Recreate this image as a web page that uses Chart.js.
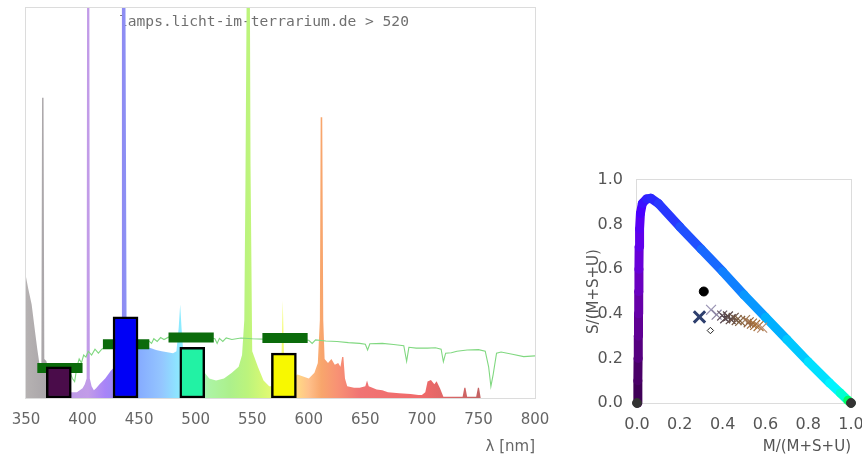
<!DOCTYPE html>
<html>
<head>
<meta charset="utf-8">
<script src="https://cdn.jsdelivr.net/npm/chart.js@4.4.1/dist/chart.umd.min.js"></script>
<style>
  html, body { margin: 0; padding: 0; background: #fff; overflow: hidden; }
  #spec { position: absolute; left: 0; top: 0; }
  #tri  { position: absolute; left: 570px; top: 160px; }
</style>
</head>
<body>
<canvas id="spec" width="560" height="457"></canvas>
<canvas id="tri" width="292" height="297"></canvas>
<script>
// ---- spectrum (left panel), relative intensity in % of plot height ----
const specNm  = [350, 352, 355, 358, 360, 362, 363.6, 364.2, 365.5, 366.2, 368, 370, 371.5, 374, 380, 390, 395, 400, 402, 403.6, 404.1, 405.9, 406.4, 408, 410, 412, 415, 420, 425, 430, 434, 434.8, 437.6, 439, 445, 450, 455, 460, 465, 470, 475, 480, 483, 485, 486.3, 487.5, 489, 492, 497, 503, 508, 512, 518, 525, 532, 538, 541, 543, 544, 545, 545.6, 547.6, 548.5, 550, 555, 560, 565, 570, 574, 576, 577, 578, 580, 585, 590, 595, 600, 605, 608, 609.8, 610.5, 611.9, 612.8, 614, 617, 620, 623, 626, 628, 629.5, 630.6, 632, 634, 640, 645, 650, 651.5, 653, 660, 665, 670, 680, 690, 697, 700, 703, 705, 708, 711, 713, 716, 719, 725, 731, 736, 737.5, 738.5, 740, 748, 749.5, 750.5, 752, 800];
const specVal = [31, 28, 24, 17, 12.5, 8.5, 9, 77, 77, 10, 9.5, 7, 3, 1.5, 1, 1.5, 1.5, 2.5, 3.5, 5, 130, 130, 5, 3, 2, 2.5, 3.5, 5, 7, 8.5, 9.5, 130, 130, 12, 13.5, 13.5, 13.2, 12.8, 12.3, 12, 11.7, 11.5, 12, 18, 24, 18, 12, 10, 9, 8, 6.5, 5, 4.5, 5, 6.5, 8, 11, 20, 55, 100, 130, 130, 60, 12, 8, 4.5, 3, 3, 3.5, 12, 25, 12, 4, 5, 6, 5.5, 5, 6.5, 9, 20, 72, 72, 20, 10, 9, 10, 8.5, 9, 8, 10.5, 10.5, 5, 3, 2.6, 2.6, 3, 4.5, 3, 2.2, 2, 1.5, 1.2, 1, 0.8, 0.8, 1.5, 4.2, 4.6, 3.5, 4.3, 2.5, 0.3, 0.3, 0.3, 0.3, 2.6, 2.6, 0.3, 0.3, 2.6, 2.6, 0, 0];

// transmission curve (thin green line)
const reflNm  = [387, 389, 391, 393, 395, 397, 399, 401, 403, 405, 408, 411, 414, 417, 420, 430, 440, 450, 458, 461, 463, 466, 469, 472, 476, 490, 505, 517, 519, 521, 524, 527, 532, 540, 550, 560, 575, 590, 600, 603, 606, 615, 625, 635, 645, 650, 652, 654, 665, 675, 684, 686.5, 688.5, 695, 705, 712, 717, 719, 721, 726, 731, 740, 750, 756, 759, 761, 763, 766, 770, 780, 790, 800];
const reflVal = [3.8, 6.5, 5, 4.2, 8, 10, 9, 11, 10.5, 12, 11, 12.5, 11.5, 12.5, 13, 13.6, 14, 14.3, 14.8, 14, 15.2, 14.5, 15.5, 15, 15.6, 15.8, 15.8, 15.2, 14, 15.3, 14.5, 15.4, 15, 15.4, 15.2, 15.1, 15, 14.8, 14.8, 14, 14.9, 14.6, 14.5, 14.2, 14, 13.8, 12.3, 13.9, 14, 13.7, 13.4, 9.4, 13, 12.8, 12.8, 12.9, 12.5, 9.3, 11.5, 11.6, 12, 12.3, 12.4, 12, 8, 3, 6, 11.5, 11.8, 11.2, 10.6, 10.8];

// receptor bars (black outlined) and dark green markers
const coneNm    = [379, 438, 497, 578];
const coneVal   = [8, 20.8, 13, 11.5];
const coneColor = ['#4a0c4a', '#0000f6', '#22f2a4', '#f8f800'];
const markFrom  = [360, 418, 476, 559];
const markTo    = [400, 459, 516, 599];
const markVal   = [7.7, 13.8, 15.5, 15.4];
const specTicks = [350, 400, 450, 500, 550, 600, 650, 700, 750, 800];

// colour stops of the spectrum fill
const hueNm    = [350, 370, 376, 405, 420, 436, 447, 470, 487, 500, 512, 530, 546, 560, 577, 590, 600, 611, 625, 645, 700, 750, 800];
const hueColor = ['#b6b2b2', '#a8a4a8', '#b898e4', '#c29ce8', '#a884f8', '#8e8cf2', '#84a8ff', '#94c6ff', '#8cecff', '#a4f8d0', '#acf4a4', '#acf08c', '#bcf47c', '#d6f874', '#f4fc74', '#ffd884', '#ffc08a', '#f8a66c', '#f89274', '#f07474', '#f06a6a', '#c46262', '#c46262'];

// ---- colour triangle (right panel) ----
const locusM = [0.004, 0.004, 0.005, 0.006, 0.007, 0.008, 0.009, 0.010, 0.012, 0.016, 0.025, 0.045, 0.065, 0.10, 0.20, 0.30, 0.40, 0.50, 0.60, 0.70, 0.80, 0.90, 0.95, 0.985, 1.0];
const locusS = [0.0, 0.10, 0.20, 0.30, 0.40, 0.50, 0.60, 0.70, 0.78, 0.85, 0.895, 0.915, 0.918, 0.895, 0.79, 0.69, 0.59, 0.485, 0.385, 0.285, 0.185, 0.09, 0.045, 0.012, 0.0];
const locusColor = ['#400058', '#4a0068', '#560080', '#600094', '#6600a8', '#6a00c0', '#6800d8', '#6000ea', '#5800f4', '#4a00ff', '#3c10ff', '#3020ff', '#2a28ff', '#2838ff', '#2050ff', '#1868ff', '#1080ff', '#0898ff', '#00b0ff', '#00c8ff', '#00e0ff', '#00f4ff', '#00ffd0', '#00ff60', '#10ff00'];
const endM = [0, 1];
const endS = [0, 0];
const refM = [0.312];
const refS = [0.50];
const blueM = [0.292];
const blueS = [0.386];
const diaM = [0.343];
const diaS = [0.325];
const lampM = [0.346, 0.372, 0.398, 0.412, 0.425, 0.438, 0.452, 0.466, 0.482, 0.505, 0.522, 0.537, 0.552, 0.568, 0.585];
const lampS = [0.418, 0.396, 0.392, 0.380, 0.388, 0.376, 0.382, 0.372, 0.368, 0.372, 0.362, 0.356, 0.350, 0.345, 0.338];
const lampColor = ['#9a94b4', '#8c84a0', '#6a5a66', '#584850', '#5a4848', '#604c48', '#6c5448', '#765a46', '#80603e', '#a07c58', '#946440', '#9c6a3c', '#a46c34', '#a87038', '#b88c70'];
const starM = [0.41, 0.432, 0.455, 0.53];
const starS = [0.388, 0.38, 0.376, 0.358];
const starColor = ['#4c3c44', '#5a4848', '#6c5448', '#9a6a40'];
const triTicks = [0, 0.2, 0.4, 0.6, 0.8, 1.0];

function pts(xs, ys) {
  return xs.map(function (x, i) { return { x: x, y: ys[i] }; });
}

Chart.defaults.font.family = "'DejaVu Sans', sans-serif";
Chart.defaults.animation = false;
Chart.defaults.plugins.legend.display = false;
Chart.defaults.plugins.tooltip.enabled = false;

// light grey box round the plot area
const frame = {
  id: 'frame',
  beforeDatasetsDraw(chart) {
    const a = chart.chartArea, c = chart.ctx;
    c.save();
    c.strokeStyle = '#dcdcdc';
    c.lineWidth = 1;
    c.strokeRect(Math.round(a.left) - 0.5, Math.round(a.top) - 0.5,
                 Math.round(a.right - a.left) + 1, Math.round(a.bottom - a.top) + 1);
    c.restore();
  }
};

// source stamp inside the spectrum plot
const stamp = {
  id: 'stamp',
  beforeDatasetsDraw(chart) {
    const a = chart.chartArea, c = chart.ctx;
    c.save();
    c.font = "14.6px 'DejaVu Sans Mono', monospace";
    c.fillStyle = '#707070';
    c.textAlign = 'left';
    c.textBaseline = 'middle';
    c.fillText('lamps.licht-im-terrarium.de > 520', a.left + 93, a.top + 14);
    c.restore();
  }
};

function specFill(context) {
  const chart = context.chart;
  if (!chart.chartArea) return '#ccc';
  const xs = chart.scales.x;
  const x0 = xs.getPixelForValue(350), x1 = xs.getPixelForValue(800);
  const g = chart.ctx.createLinearGradient(x0, 0, x1, 0);
  hueNm.forEach(function (nm, i) { g.addColorStop((nm - 350) / 450, hueColor[i]); });
  return g;
}

const markSets = markFrom.map(function (from, i) {
  return {
    type: 'line',
    data: [{ x: from, y: markVal[i] }, { x: markTo[i], y: markVal[i] }],
    borderColor: '#0b6b0b',
    borderWidth: 10,
    borderCapStyle: 'butt',
    pointRadius: 0,
    order: 2
  };
});

new Chart(document.getElementById('spec'), {
  type: 'line',
  data: {
    datasets: [
      { type: 'bar', data: pts(coneNm, coneVal), backgroundColor: coneColor, borderColor: '#000',
        borderWidth: 2.5, borderSkipped: false, barThickness: 25, order: 1 }
    ].concat(markSets, [
      { type: 'line', data: pts(reflNm, reflVal), borderColor: '#80d880', borderWidth: 1.1,
        pointRadius: 0, order: 3 },
      { type: 'line', data: pts(specNm, specVal), fill: 'origin', backgroundColor: specFill,
        borderWidth: 0, pointRadius: 0, order: 4 }
    ])
  },
  options: {
    responsive: false,
    layout: { padding: { left: 26, right: 25, top: 8, bottom: 0 } },
    scales: {
      x: {
        type: 'linear', min: 350, max: 800, offset: false,
        grid: { display: false, drawTicks: false },
        border: { display: false },
        ticks: { color: '#666', font: { size: 15 }, padding: 13, maxRotation: 0 },
        afterBuildTicks: function (s) { s.ticks = specTicks.map(function (v) { return { value: v }; }); },
        afterFit: function (s) { s.height = 59; s.paddingLeft = 0; s.paddingRight = 0; },
        title: { display: true, text: 'λ [nm]', align: 'end', color: '#666', font: { size: 15 },
                 padding: { top: 0, bottom: 1 } }
      },
      y: { display: false, min: 0, max: 100 }
    }
  },
  plugins: [frame, stamp]
});

new Chart(document.getElementById('tri'), {
  type: 'scatter',
  data: {
    datasets: [
      { data: pts(endM, endS), pointRadius: 4.5, pointBackgroundColor: '#333', pointBorderColor: '#333',
        clip: false, order: 1 },
      { data: pts(refM, refS), pointRadius: 4.5, pointBackgroundColor: '#000', pointBorderColor: '#000', order: 1 },
      { data: pts(blueM, blueS), pointStyle: 'crossRot', pointRadius: 8, pointBorderWidth: 3,
        pointBorderColor: '#2e3f6e', order: 1 },
      { data: pts(diaM, diaS), pointStyle: 'rectRot', pointRadius: 3.2, pointBorderWidth: 1,
        pointBorderColor: '#222', pointBackgroundColor: '#fff', order: 1 },
      { data: pts(lampM, lampS), pointStyle: 'crossRot', pointRadius: 7, pointBorderWidth: 1.2,
        pointBorderColor: lampColor, order: 2 },
      { data: pts(starM, starS), pointStyle: 'cross', pointRadius: 4.5, pointBorderWidth: 1.2,
        pointBorderColor: starColor, order: 2 },
      { data: pts(locusM, locusS), showLine: true, pointRadius: 0, borderWidth: 9,
        borderColor: locusColor[0], borderCapStyle: 'round', borderJoinStyle: 'round',
        segment: { borderColor: function (c) { return locusColor[c.p0DataIndex]; } },
        clip: false, order: 5 }
    ]
  },
  options: {
    responsive: false,
    layout: { padding: { left: 0, right: 9, top: 20, bottom: 0 } },
    scales: {
      x: {
        type: 'linear', min: 0, max: 1,
        grid: { display: false, drawTicks: false },
        border: { display: false },
        ticks: { color: '#555', font: { size: 16 }, padding: 12,
                 callback: function (v) { return v.toFixed(1); } },
        afterBuildTicks: function (s) { s.ticks = triTicks.map(function (v) { return { value: v }; }); },
        afterFit: function (s) { s.height = 54; s.paddingLeft = 0; s.paddingRight = 0; },
        title: { display: true, text: 'M/(M+S+U)', align: 'end', color: '#555', font: { size: 15 },
                 padding: { top: 0, bottom: 1 } }
      },
      y: {
        type: 'linear', min: 0, max: 1,
        grid: { display: false, drawTicks: false },
        border: { display: false },
        ticks: { color: '#555', font: { size: 16 }, padding: 14,
                 callback: function (v) { return v.toFixed(1); } },
        afterBuildTicks: function (s) { s.ticks = triTicks.map(function (v) { return { value: v }; }); },
        afterFit: function (s) { s.width = 67; s.paddingTop = 0; s.paddingBottom = 0; },
        title: { display: true, text: 'S/(M+S+U)', color: '#555', font: { size: 15 },
                 padding: { top: 15, bottom: 0 } }
      }
    }
  },
  plugins: [frame]
});
</script>
</body>
</html>
